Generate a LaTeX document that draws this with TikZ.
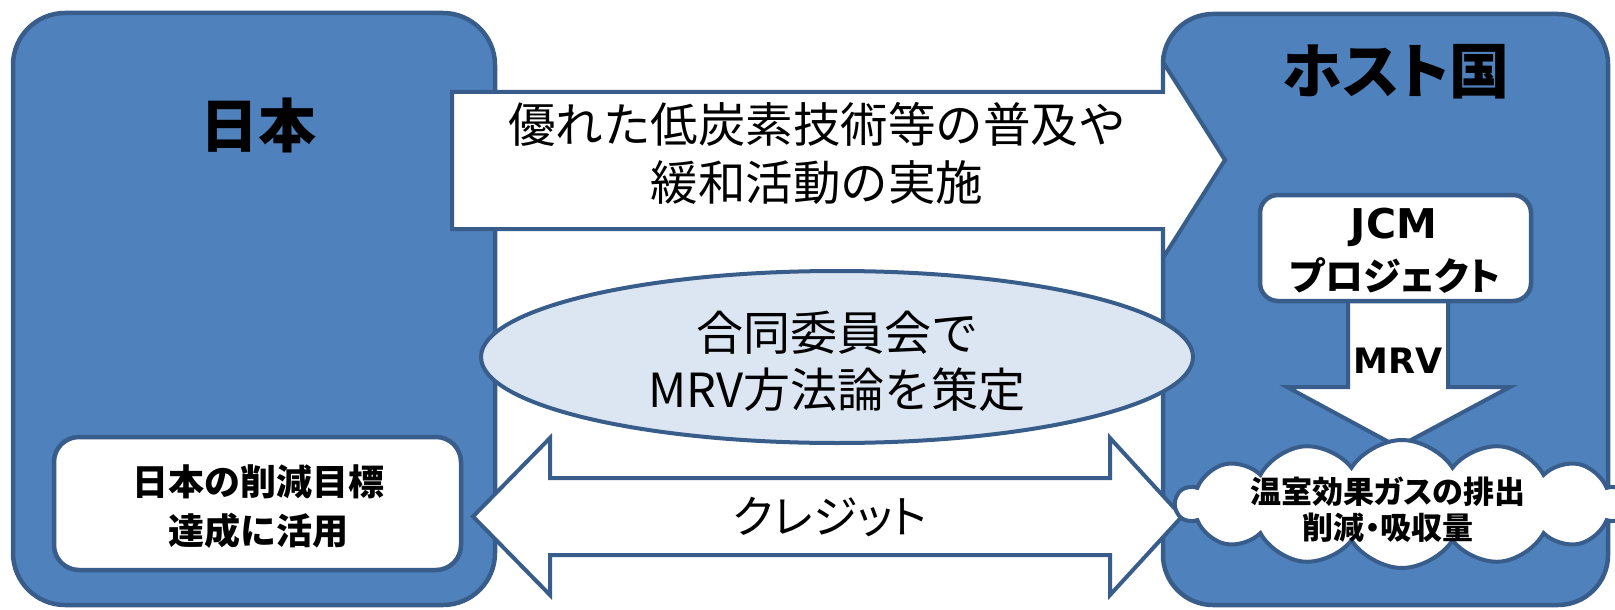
\documentclass[tikz,border=0pt]{standalone}
\usepackage{fontspec}
\setmainfont{Noto Sans CJK JP}
\newfontfamily\jpp{Noto Sans CJK JP}[RawFeature=+palt]
\newfontfamily\lat{DejaVu Sans}
\usetikzlibrary{shapes.symbols,shapes.geometric}
\definecolor{boxfill}{HTML}{4F81BD}
\definecolor{boxline}{HTML}{385D8A}
\definecolor{ellfill}{HTML}{DCE6F2}
\tikzset{
  bigbox/.style={draw=boxline, fill=boxfill, line width=4.5pt, rectangle, inner sep=0pt},
  whitebox/.style={draw=boxline, fill=white, line width=4.5pt, rectangle, inner sep=0pt},
  blockarrow/.style={draw=boxline, fill=white, line width=4pt, line join=miter},
  lbl/.style={inner sep=0pt, align=center, text=black},
}
\begin{document}
\begin{tikzpicture}[x=1pt,y=-1pt]
\useasboundingbox (0,0) rectangle (1615,610);
% big boxes
\node[bigbox, rounded corners=52pt, minimum width=482pt, minimum height=592pt] (japan) at (254,309) {};
\node[bigbox, rounded corners=50pt, minimum width=445pt, minimum height=591pt] (host) at (1385.5,309.5) {};
% top arrow
\draw[blockarrow] (452,92) -- (1163,92) -- (1163,62) -- (1225,160) -- (1163,258) -- (1163,229) -- (452,229) -- cycle;
% ellipse
\node[draw=boxline, fill=ellfill, line width=4pt, ellipse, minimum width=712pt, minimum height=172pt, inner sep=0pt] (jc) at (837,357) {};
% double arrow
\draw[blockarrow] (473,516.5) -- (550,438) -- (550,478) -- (1110,478) -- (1110,438) -- (1182,516.5) -- (1110,595) -- (1110,555) -- (550,555) -- (550,595) -- cycle;
% left white box
\node[whitebox, rounded corners=25pt, minimum width=407pt, minimum height=133pt] (use) at (257.5,503.5) {};
% MRV arrow
\draw[blockarrow] (1348,301) -- (1348,387) -- (1287,387) -- (1398,447) -- (1510,387) -- (1448,387) -- (1448,301);
% JCM box
\node[whitebox, rounded corners=18pt, minimum width=271pt, minimum height=106pt] (jcm) at (1395.5,248) {};
% cloud
\node[cloud, draw=boxline, fill=white, line width=4pt, cloud puffs=14, cloud puff arc=115, aspect=3.4, minimum width=452pt, minimum height=128pt, inner sep=0pt] (ghg) at (1402,504) {};
% texts
\node[lbl, font=\fontsize{58}{60}\selectfont\bfseries] (tJapan) at (258,125) {日本};
\node[lbl, font=\jpp\fontsize{60}{62}\selectfont\bfseries] (tHost) at (1396,72) {ホスト国};
\node[lbl, font=\fontsize{47.5}{58}\selectfont] (tTech) at (817,153) {優れた低炭素技術等の普及や\\緩和活動の実施};
\node[lbl, font=\fontsize{47}{57}\selectfont] (tJC) at (837,361) {合同委員会で\\MRV方法論を策定};
\node[lbl, font=\jpp\fontsize{45}{50}\selectfont] (tCredit) at (830,517) {クレジット};
\node[lbl, font=\fontsize{36}{49}\selectfont\bfseries] (tUse) at (258,507) {日本の削減目標\\達成に活用};
\node[lbl, font=\lat\fontsize{41}{44}\selectfont\bfseries] (tJCM) at (1394,227) {JCM};
\node[lbl, font=\jpp\fontsize{38}{40}\selectfont\bfseries] (tProj) at (1395,276) {プロジェクト};
\node[lbl, font=\lat\fontsize{35}{38}\selectfont\bfseries] (tMRV) at (1398,361) {MRV};
\node[lbl, font=\jpp\fontsize{31}{36}\selectfont\bfseries] (tGHG) at (1388,510) {温室効果ガスの排出\\削減・吸収量};
\end{tikzpicture}
\end{document}
